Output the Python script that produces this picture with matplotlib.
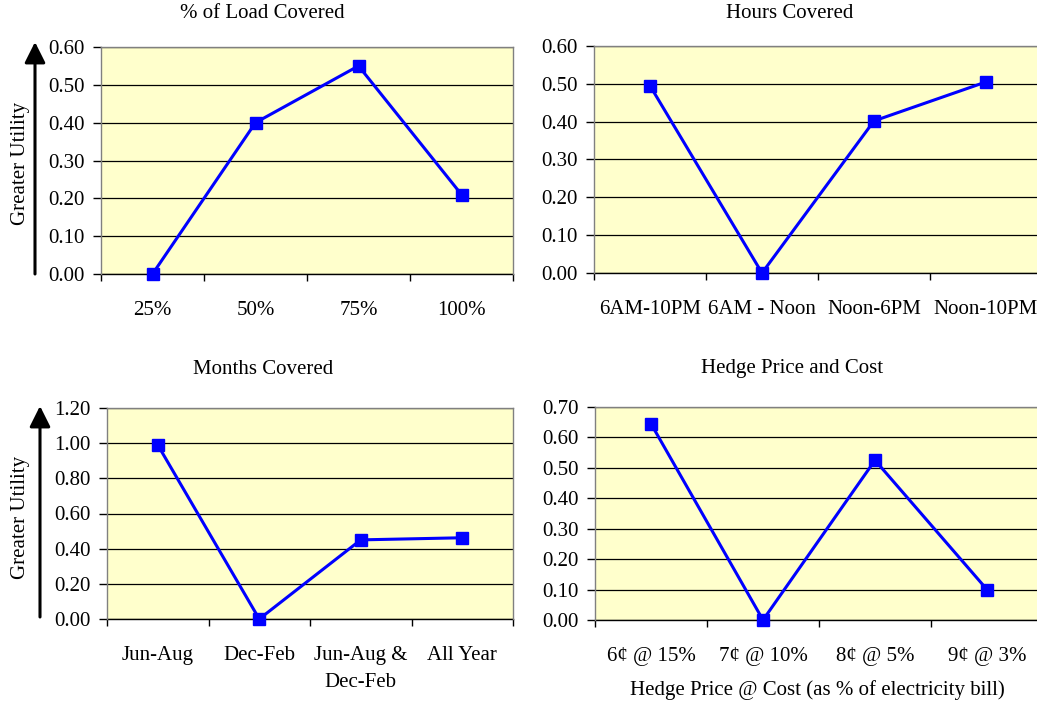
import matplotlib
matplotlib.use("Agg")
import matplotlib.pyplot as plt
from matplotlib.ticker import FixedLocator, FormatStrFormatter

plt.rcParams['font.family'] = ['Liberation Serif', 'DejaVu Serif']

# ---- data ----
load_cats = ["25%", "50%", "75%", "100%"]
load_vals = [0.00, 0.40, 0.55, 0.21]

hours_cats = ["6AM-10PM", "6AM - Noon", "Noon-6PM", "Noon-10PM"]
hours_vals = [0.495, 0.00, 0.402, 0.505]

months_cats = ["Jun-Aug", "Dec-Feb", "Jun-Aug &\nDec-Feb", "All Year"]
months_vals = [0.99, 0.00, 0.45, 0.462]

hedge_cats = ["6¢ @ 15%", "7¢ @ 10%", "8¢ @ 5%", "9¢ @ 3%"]
hedge_vals = [0.645, 0.00, 0.525, 0.10]

titles = ["% of Load Covered", "Hours Covered", "Months Covered", "Hedge Price and Cost"]
ylims = [(0, 0.6, 0.1), (0, 0.6, 0.1), (0, 1.2, 0.2), (0, 0.7, 0.1)]

W, H = 1037, 702
fig = plt.figure(figsize=(W / 100, H / 100), dpi=100)
fig.patch.set_facecolor("white")


def rect(l, t, r, b):
    return [l / W, 1 - b / H, (r - l) / W, (b - t) / H]


rects = [rect(101, 47, 513, 274), rect(594, 46, 1042, 273),
         rect(107, 408, 513, 619), rect(595, 407, 1043, 620)]
title_pos = [(262, 13), (790, 13), (263, 369), (792, 369)]

FS = 15
BG = "#FFFFCC"
SPINE = "#808080"

datasets = [(load_cats, load_vals), (hours_cats, hours_vals),
            (months_cats, months_vals), (hedge_cats, hedge_vals)]

for i, ((cats, vals), r, (lo, hi, step), ttl, tp) in enumerate(
        zip(datasets, rects, ylims, titles, title_pos)):
    ax = fig.add_axes(r)
    ax.set_facecolor(BG)
    x = list(range(len(cats)))
    ax.plot(x, vals, color="#0000FF", lw=2.2, marker="s", ms=9,
            markerfacecolor="#0000FF", markeredgecolor="#0000FF", zorder=3, clip_on=False)
    ax.set_xlim(-0.5, len(cats) - 0.5)
    ax.set_ylim(lo, hi)
    n = int(round((hi - lo) / step))
    yt = [lo + k * step for k in range(n + 1)]
    ax.set_yticks(yt)
    ax.yaxis.set_major_formatter(FormatStrFormatter("%.2f"))
    ax.grid(axis="y", color="black", lw=0.9, zorder=1)
    ax.set_axisbelow(True)
    ax.set_xticks(x)
    ax.set_xticklabels(cats, fontsize=FS, linespacing=1.6)
    ax.xaxis.set_minor_locator(FixedLocator([k - 0.5 for k in range(len(cats) + 1)]))
    ax.tick_params(axis="x", which="major", length=0, pad=19.5)
    ax.tick_params(axis="x", which="minor", length=5, width=1, color="black", direction="out")
    ax.tick_params(axis="y", which="major", length=6, width=1, color="black",
                   direction="out", labelsize=FS, pad=6)
    for s in ["top", "right", "left"]:
        ax.spines[s].set_color(SPINE)
        ax.spines[s].set_linewidth(1.0)
    ax.spines["bottom"].set_color("black")
    ax.spines["bottom"].set_linewidth(1.0)
    ax.spines["bottom"].set_zorder(2)
    fig.text(tp[0] / W, 1 - tp[1] / H, ttl, ha="center", va="center", fontsize=FS)

    if i in (0, 2):
        # upward arrow + "Greater Utility" label
        if i == 0:
            ax_x, y0, y1, lab_y = 35, 274, 42, 163
        else:
            ax_x, y0, y1, lab_y = 40, 617, 406, 517
        fig.add_artist(matplotlib.patches.FancyArrowPatch(
            (ax_x / W, 1 - y0 / H), (ax_x / W, 1 - y1 / H),
            transform=fig.transFigure, arrowstyle="-|>,head_length=7,head_width=3.5",
            color="black", lw=2.2, mutation_scale=1.8, shrinkA=0, shrinkB=0))
        fig.text(21 / W, 1 - lab_y / H, "Greater Utility", rotation=90,
                 ha="center", va="center", fontsize=FS)

fig.text(817 / W, 1 - 690 / H, "Hedge Price @ Cost (as % of electricity bill)",
         ha="center", va="center", fontsize=FS)

fig.savefig("out.png", dpi=100)
